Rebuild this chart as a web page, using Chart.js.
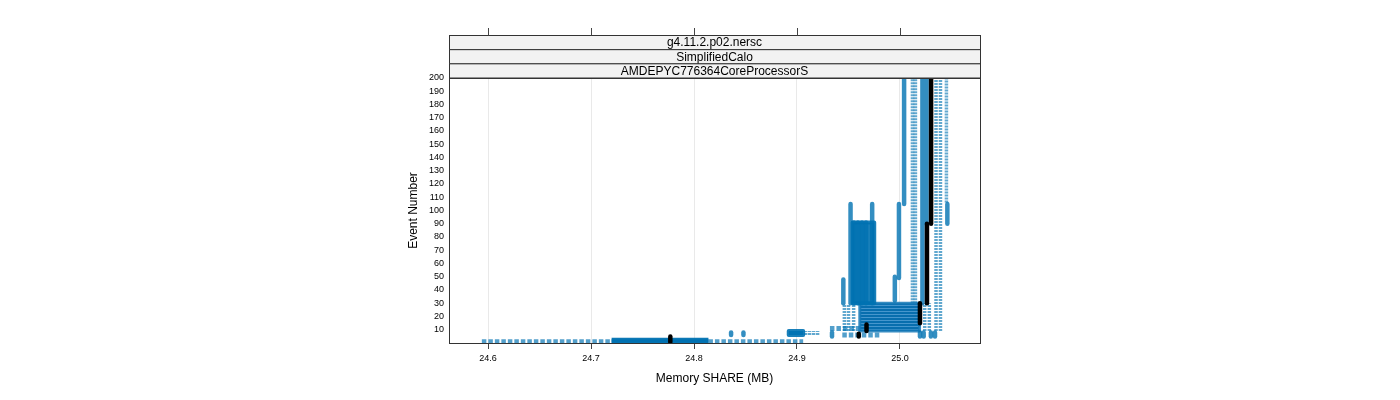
<!DOCTYPE html>
<html>
<head>
<meta charset="utf-8">
<script src="https://cdn.jsdelivr.net/npm/chart.js@4/dist/chart.umd.min.js"></script>
<style>
  html, body { margin: 0; padding: 0; background: #ffffff; }
  #c { display: block; }
</style>
</head>
<body>
<canvas id="c" width="1400" height="400"></canvas>
<script>
// ---------- data ----------
const xTicks = [24.6, 24.7, 24.8, 24.9, 25.0];
const yTicks = [10, 20, 30, 40, 50, 60, 70, 80, 90, 100, 110, 120, 130, 140, 150, 160, 170, 180, 190, 200];
const stripLabels = ['g4.11.2.p02.nersc', 'SimplifiedCalo', 'AMDEPYC776364CoreProcessorS'];

// sparse rows of points: [event, memoryFrom, memoryTo]
const lightRows = [
  [1, 24.594, 24.720],
  [1, 24.814, 24.906],
  [11, 24.932, 24.961],
  [6, 24.944, 24.981]
];
// dense rows of points: [event, memoryFrom, memoryTo]
const denseRows = [
  [1, 24.720, 24.814],
  [2, 24.720, 24.814]
];
// sparse columns of points: [memory, eventFrom, eventTo]
const lightCols = [
  [24.908, 6, 9], [24.912, 6, 9], [24.916, 6, 9], [24.920, 6, 9],
  [24.946, 9, 29], [24.950, 9, 29], [24.955, 9, 29],
  [25.0121, 30, 200], [25.0150, 30, 200],
  [25.0350, 9, 200], [25.0393, 9, 200],
  [25.0451, 106, 200],
  [25.0240, 9, 30], [25.0285, 9, 30]
];
// dense columns of points: [memory, eventFrom, eventTo]
const denseCols = [
  [24.836, 6, 8], [24.848, 6, 8], [24.934, 5, 8],
  [24.945, 30, 48],
  [24.952, 30, 105], [24.973, 30, 105],
  [24.9553, 30, 91], [24.9592, 30, 91], [24.9631, 30, 91], [24.9670, 30, 91],
  [24.995, 32, 50], [24.999, 49, 105], [25.004, 105, 200],
  [25.0218, 30, 200], [25.0258, 90, 200],
  [25.046, 90, 105],
  [25.0194, 5, 8], [25.0230, 5, 8], [25.0300, 5, 8], [25.0340, 5, 8]
];
// dense blocks of points: [memoryFrom, memoryTo, eventFrom, eventTo]
const denseBlocks = [
  [24.892, 24.906, 6, 9],
  [24.954, 24.975, 30, 91]
];
// dense bands of rows (one row per event): [memoryFrom, memoryTo, eventFrom, eventTo]
const denseBands = [
  [24.961, 25.019, 9, 30]
];
// reference run (black): [memory, eventFrom, eventTo]
const blackRun = [
  [24.777, 1, 5],
  [24.960, 5, 7],
  [24.9675, 9, 14],
  [25.0194, 15, 30],
  [25.0262, 30, 90],
  [25.0302, 90, 200]
];

// ---------- build datasets ----------
const FONT = "'Liberation Sans', Arial, sans-serif";
const BLUE = '0,114,178';
const datasets = [];

// horizontal stripe pattern used for banded rows
const pc = document.createElement('canvas');
pc.width = 4; pc.height = 3;
const pctx = pc.getContext('2d');
pctx.fillStyle = 'rgb(8,110,174)'; pctx.fillRect(0, 0, 4, 2);
pctx.fillStyle = 'rgb(70,150,205)'; pctx.fillRect(0, 2, 4, 1);
const stripePattern = pctx.createPattern(pc, 'repeat');

function line(pts, style) {
  datasets.push(Object.assign({
    data: pts, showLine: true, pointRadius: 0, pointHoverRadius: 0, fill: false,
    tension: 0
  }, style));
}

blackRun.forEach(([x, a, b]) => line([{x, y: a}, {x, y: b}], {
  borderColor: '#000000', borderWidth: 4.5, borderCapStyle: 'round', order: 0
}));
denseCols.forEach(([x, a, b]) => line([{x, y: a}, {x, y: b}], {
  borderColor: `rgba(${BLUE},0.8)`, borderWidth: 4.5, borderCapStyle: 'round', order: 1
}));
denseRows.forEach(([y, a, b]) => line([{x: a, y}, {x: b, y}], {
  borderColor: `rgba(${BLUE},0.95)`, borderWidth: 5, borderCapStyle: 'butt', order: 1
}));
denseBlocks.forEach(([x0, x1, a, b]) => line(
  [{x: x0, y: a}, {x: x1, y: a}, {x: x1, y: b}, {x: x0, y: b}, {x: x0, y: a}], {
  borderColor: `rgba(${BLUE},0.9)`, backgroundColor: `rgba(${BLUE},0.9)`,
  borderWidth: 4, borderJoinStyle: 'round', fill: 'shape', order: 2
}));
denseBands.forEach(([x0, x1, a, b]) => line(
  [{x: x0, y: a}, {x: x1, y: a}, {x: x1, y: b}, {x: x0, y: b}, {x: x0, y: a}], {
  borderColor: 'rgba(20,120,182,0.85)', backgroundColor: stripePattern,
  borderWidth: 3, borderJoinStyle: 'round', fill: 'shape', order: 2
}));
lightRows.forEach(([y, a, b]) => line([{x: a, y}, {x: b, y}], {
  borderColor: `rgba(${BLUE},0.68)`, borderWidth: 5, borderDash: [4.5, 2], borderCapStyle: 'butt', order: 3
}));
lightCols.forEach(([x, a, b]) => line([{x, y: a}, {x, y: b}], {
  borderColor: `rgba(${BLUE},0.62)`, borderWidth: 3.5, borderDash: [2, 1], borderCapStyle: 'butt', order: 3
}));

// ---------- lattice-style frame, strips and top ticks ----------
const latticeFrame = {
  id: 'latticeFrame',
  afterDraw(chart) {
    const {ctx, chartArea: ca, scales} = chart;
    ctx.save();
    const stripTop = 35.5;
    const stripH = (ca.top - stripTop) / stripLabels.length;
    stripLabels.forEach((lab, i) => {
      const top = stripTop + i * stripH;
      ctx.fillStyle = '#f2f2f2';
      ctx.fillRect(ca.left, top, ca.right - ca.left, stripH);
      ctx.strokeStyle = '#333333';
      ctx.lineWidth = 1;
      ctx.strokeRect(ca.left + 0.5, top, ca.right - ca.left, stripH);
      ctx.fillStyle = '#000000';
      ctx.font = `12px ${FONT}`;
      ctx.textAlign = 'center';
      ctx.textBaseline = 'middle';
      ctx.fillText(lab, (ca.left + ca.right) / 2, top + stripH / 2 + 0.5);
    });
    ctx.strokeStyle = '#444444';
    xTicks.forEach(v => {
      const px = Math.round(scales.x.getPixelForValue(v)) + 0.5;
      ctx.beginPath();
      ctx.moveTo(px, stripTop);
      ctx.lineTo(px, 28);
      ctx.stroke();
    });
    ctx.strokeStyle = '#333333';
    ctx.strokeRect(ca.left + 0.5, ca.top + 0.5, ca.right - ca.left, ca.bottom - ca.top);
    ctx.restore();
  }
};

new Chart(document.getElementById('c'), {
  type: 'scatter',
  data: {datasets},
  plugins: [latticeFrame],
  options: {
    responsive: false,
    animation: false,
    events: [],
    layout: {padding: {left: 400, right: 420, top: 78, bottom: 0}},
    plugins: {legend: {display: false}, tooltip: {enabled: false}},
    scales: {
      x: {
        type: 'linear', min: 24.5621, max: 25.0777,
        afterBuildTicks: s => { s.ticks = xTicks.map(v => ({value: v})); },
        afterFit: s => { s.height = 57; },
        grid: {color: '#e9e9e9', lineWidth: 1, drawTicks: true, tickLength: 6, tickColor: '#444444'},
        border: {display: false},
        ticks: {font: {family: FONT, size: 9}, color: '#000000', padding: 4, maxRotation: 0, autoSkip: false,
                callback: v => Number(v).toFixed(1)},
        title: {display: true, text: 'Memory SHARE (MB)', color: '#000000',
                font: {family: FONT, size: 12}, padding: {top: 4, bottom: 14}}
      },
      y: {
        type: 'linear', min: 0, max: 200,
        afterBuildTicks: s => { s.ticks = yTicks.map(v => ({value: v})); },
        afterFit: s => { s.width = 49; },
        grid: {display: false, drawTicks: false},
        border: {display: false},
        ticks: {font: {family: FONT, size: 9}, color: '#000000', padding: 5, autoSkip: false},
        title: {display: true, text: 'Event Number', color: '#000000',
                font: {family: FONT, size: 12}, padding: {top: 6, bottom: 0}}
      }
    }
  }
});
</script>
</body>
</html>
